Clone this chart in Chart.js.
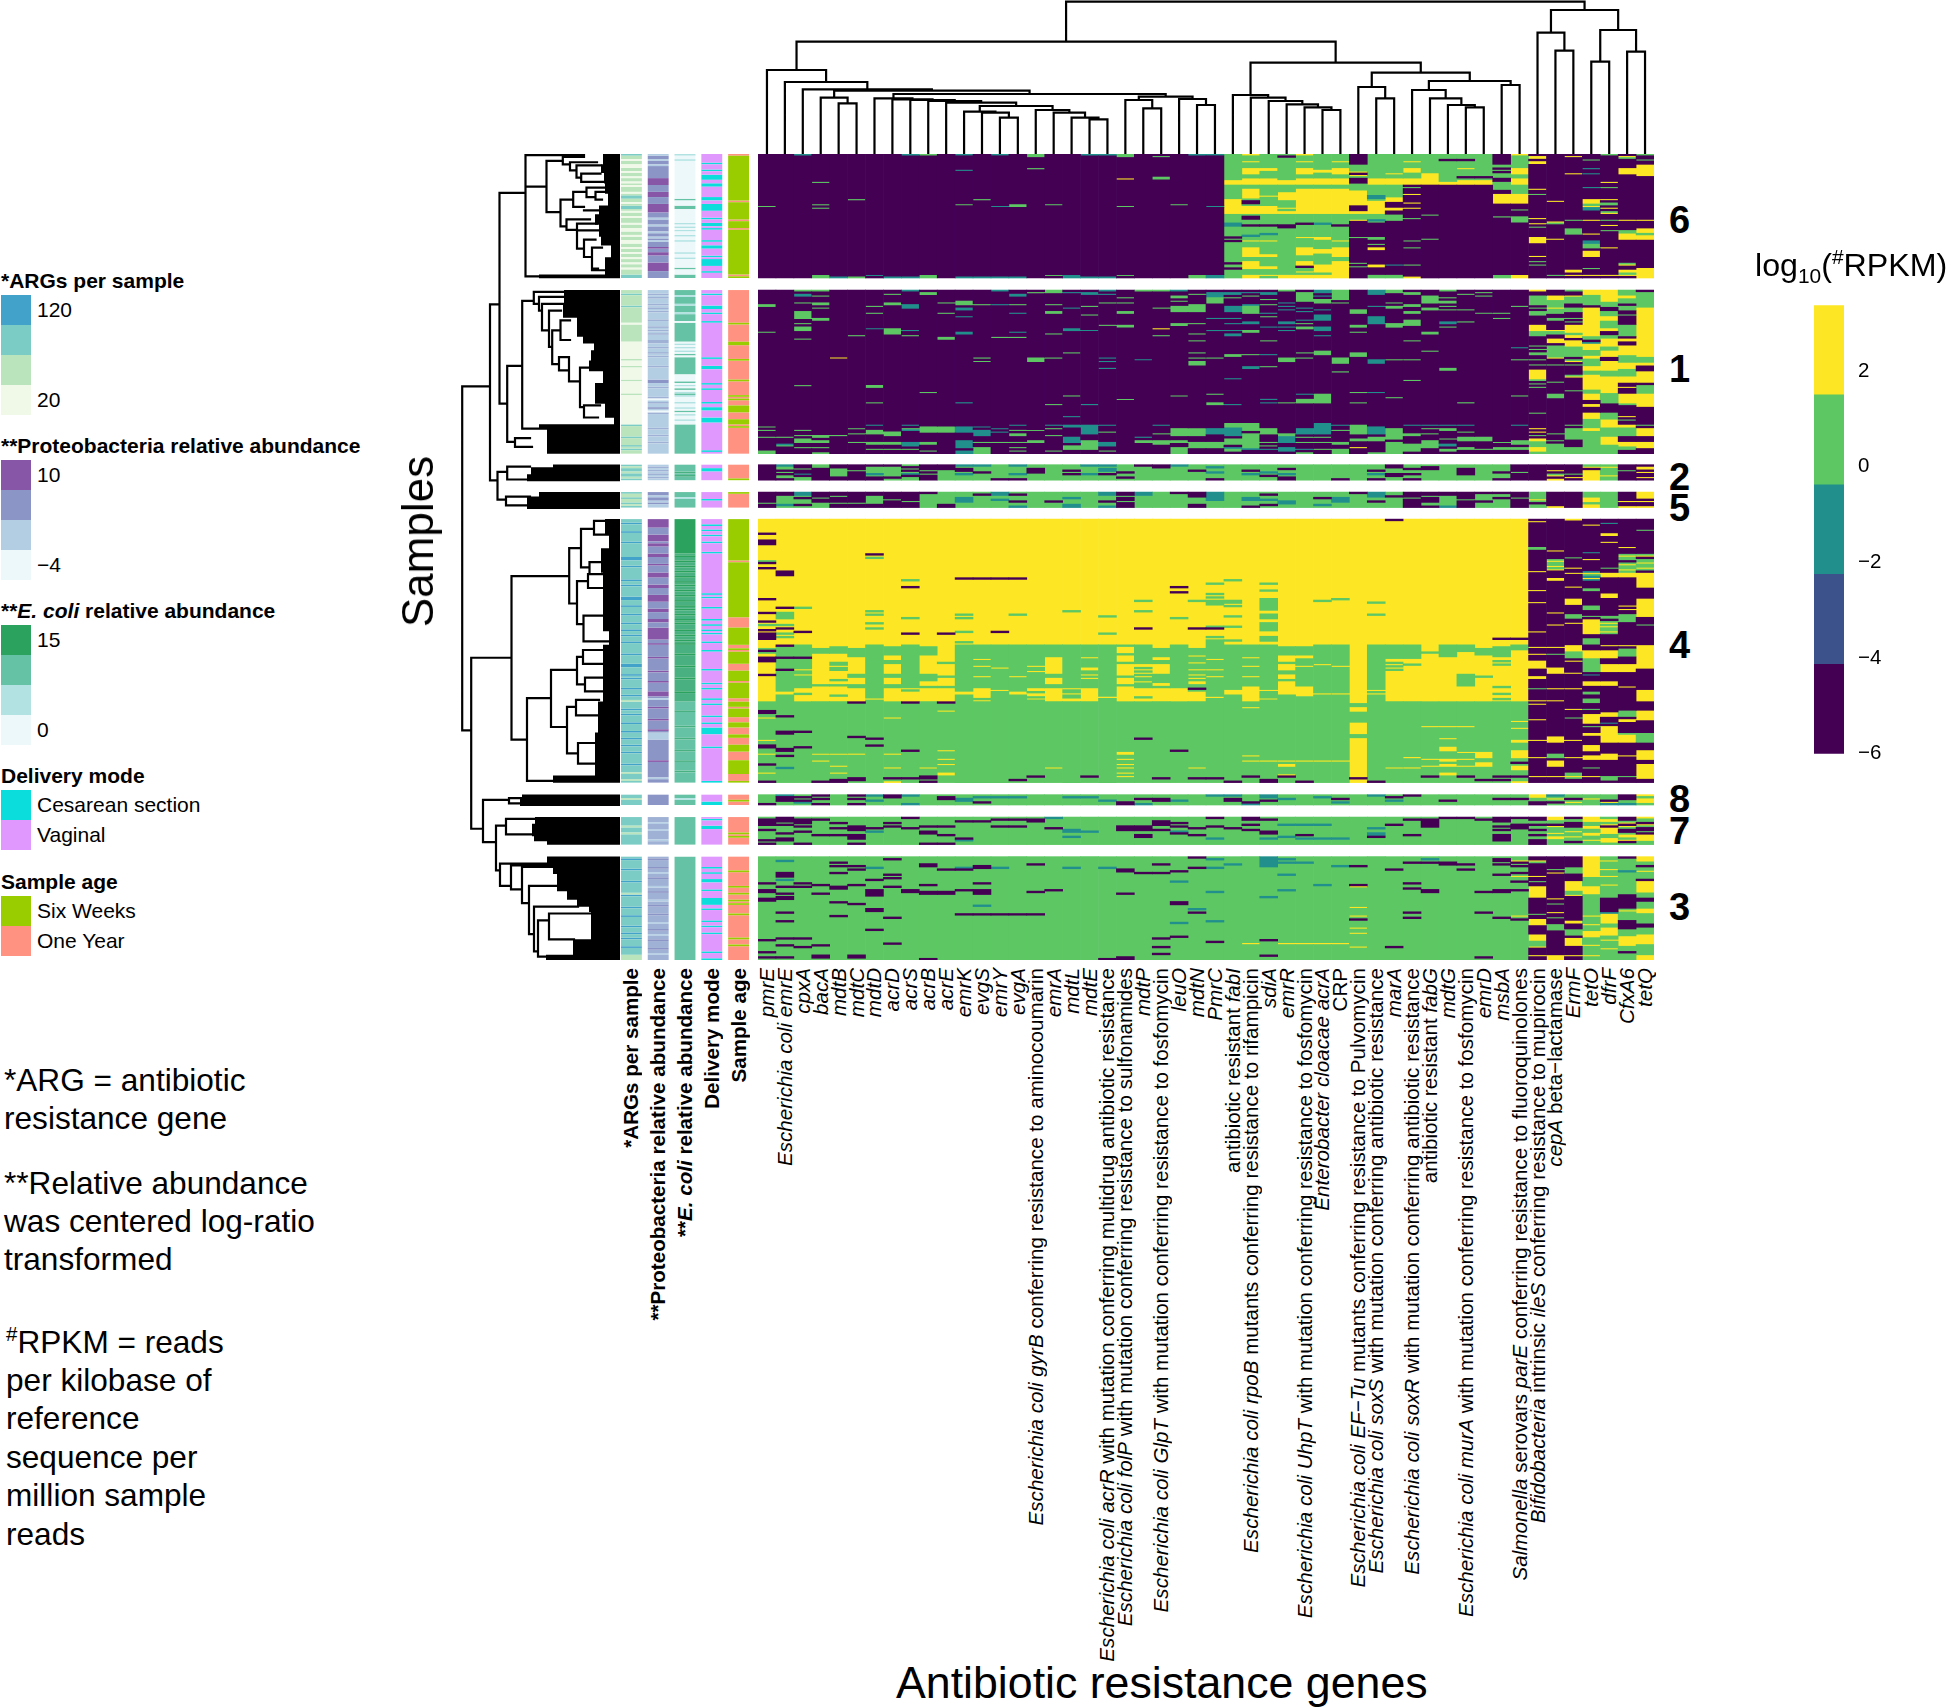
<!DOCTYPE html>
<html>
<head>
<meta charset="utf-8">
<title>Antibiotic resistance genes</title>
<script src="https://cdn.jsdelivr.net/npm/chart.js@4"></script>
<style>
  html, body { margin: 0; padding: 0; background: #fff; }
  #page { position: relative; width: 1946px; height: 1707px; overflow: hidden; font-family: "Liberation Sans", Arial, sans-serif; color: #000; }
  canvas { position: absolute; display: block; }
  .txt { position: absolute; white-space: nowrap; }
  .up { position: absolute; white-space: nowrap; writing-mode: vertical-rl; transform: rotate(180deg); line-height: 20px; font-size: 20.6px; }
  .swatch { position: absolute; left: 1px; width: 30px; height: 30px; }
  sub, sup { font-size: 65%; line-height: 0; }
</style>
</head>
<body>
<div id="page">
  <canvas id="colTree" width="896" height="154" style="left:758px;top:0"></canvas>
  <canvas id="rowTree" width="240" height="806" style="left:380px;top:154px"></canvas>
  <canvas id="tracks" width="134" height="806" style="left:618px;top:154px"></canvas>
  <canvas id="heat" width="896" height="806" style="left:758px;top:154px"></canvas>
  <canvas id="scale" width="132" height="485" style="left:1814px;top:287px"></canvas>
</div>
<script>
/* global Chart */

const geneLabels = [
  '<i>pmrE</i>', '<i>Escherichia coli emrE</i>', '<i>cpxA</i>', '<i>bacA</i>', '<i>mdtB</i>', '<i>mdtC</i>', '<i>mdtD</i>',
  '<i>acrD</i>', '<i>acrS</i>', '<i>acrB</i>', '<i>acrE</i>', '<i>emrK</i>', '<i>evgS</i>', '<i>emrY</i>', '<i>evgA</i>',
  '<i>Escherichia coli gyrB</i> conferring resistance to aminocoumarin',
  '<i>emrA</i>', '<i>mdtL</i>', '<i>mdtE</i>',
  '<i>Escherichia coli acrR</i> with mutation conferring multidrug antibiotic resistance',
  '<i>Escherichia coli folP</i> with mutation conferring resistance to sulfonamides',
  '<i>mdtP</i>',
  '<i>Escherichia coli GlpT</i> with mutation conferring resistance to fosfomycin',
  '<i>leuO</i>', '<i>mdtN</i>', '<i>PmrC</i>', 'antibiotic resistant <i>fabI</i>',
  '<i>Escherichia coli rpoB</i> mutants conferring resistance to rifampicin',
  '<i>sdiA</i>', '<i>emrR</i>',
  '<i>Escherichia coli UhpT</i> with mutation conferring resistance to fosfomycin',
  '<i>Enterobacter cloacae acrA</i>', 'CRP',
  '<i>Escherichia coli EF\u2212Tu</i> mutants conferring resistance to Pulvomycin',
  '<i>Escherichia coli soxS</i> with mutation conferring antibiotic resistance',
  '<i>marA</i>',
  '<i>Escherichia coli soxR</i> with mutation conferring antibiotic resistance',
  'antibiotic resistant <i>fabG</i>', '<i>mdtG</i>',
  '<i>Escherichia coli murA</i> with mutation conferring resistance to fosfomycin',
  '<i>emrD</i>', '<i>msbA</i>',
  '<i>Salmonella</i> serovars <i>parE</i> conferring resistance to fluoroquinolones',
  '<i>Bifidobacteria</i> intrinsic <i>ileS</i> conferring resistance to mupirocin',
  '<i>cepA</i> beta\u2212lactamase',
  '<i>ErmF</i>', '<i>tetO</i>', '<i>dfrF</i>', '<i>CfxA6</i>', '<i>tetQ</i>'
];
const trackLabels = ['*ARGs per sample', '**Proteobacteria relative abundance', '**<i>E. coli</i> relative abundance', 'Delivery mode', 'Sample age'];

const clusterNames = ['6', '1', '2', '5', '4', '8', '7', '3'];
const clusterRows = [72, 95, 9, 9, 153, 6, 16, 60];
const clusterStart = [0, 79, 180.4, 196.3, 212, 372, 385, 408];
const clusterLabelRow = [38.5, 125, 187.5, 205.5, 285, 374.7, 393, 437];

// heat levels, p b t g y = the five steps of the colour bar
const scaleBreaks = [-6, -4.13, -2.25, -0.38, 1.5, 3.37];
const scaleColors = ['#440154', '#3B528B', '#21908C', '#5DC863', '#FDE725'];
const scaleTicks = [-6, -4, -2, 0, 2];

// each column: runs over the base letter, "g8-10" = green rows 8 and 9, "g24" = row 24
const base6 = 'pppppppppppppppppppppppppp' + 'ggggggg' + 'ppppppppppppppppp';
const cols6 = [
  'g30', '', 't0', 'g16 g29 g31 g70-72', 't71', 'g26 g71', 't70', 't71', 't0 t71', 'g0 g70-72',
  '', 't0 t9 g29 t71', 'g26 t71', 't0 t30 t71', 'g29-31 t71', 'g0-2 g8', 'g29 g70', 't70-72', 't0 t71', 't0 t71',
  'g0-2 y14 g30 g70', '', 'g1 g13-15', 'g29', 't0 g70-72', 't0 t30 t70-72',
  'y15-18 y26-35 t40-42 p48 p50 p63 p66',
  'y0 y4 y8-12 y14-18 y20-26 p27-29 y30-35 p36-38 p41 t47 y50 y54-60 y62-67 y70-72',
  'y8-10 y14-18 y24 y30-35 p41 t46 y50 y58-60 y65-67 y70',
  'p1 y15-18 y22-27 y31 y33-35 p41-43 y70-72',
  'y0 y4 y8-12 y14-18 y20-35 p40 y48 y54-59 y62-65 p65 y68 y70-72',
  'y9-11 y14-18 y20-35 t40 y48-50 y55-58 y64-69 y70-72',
  'y4 y8-12 y14-18 y20-35 p41 y50 y54-60 y62-72',
  'g6-10 y10 p11 y12 g13 p14-17 g17-21 y21-30 p30-33 y33-35 g35-38 y38 g48 g63 g65',
  'g0-14 y14-18 g18-24 t24-26 g26 y27-35 g35-38 t38 g39 g48-50 g52 y54-56 y64-66 g70-72',
  'g0-11 y11 g12-14 y14-18 g18-25 y25-28 p28-31 y31-33 g35-39 t64 g70-72',
  'g0-4 y4 g5-8 y8-11 g11-14 y14-18 g19 y23 y28 y31 g37 g50 g54 g64 y71',
  'g0-11 y11-18 g35 g49',
  'g0-3 g4-16 y16-18',
  'g0-3 g4-8 y8 g9-13 g14 y15-18',
  'g0-13 g14 y15-18',
  'g6-8 g9 g11-14 g16-21 y23-29 g36 g70-72',
  'y0 g1-8 y8-12 g12-14 y14-18 g18-23 y23-29 g32 g36-40 y70-72',
  'y1-3 y4-6 y20 g23 y37 y40 g42 y48-52 y59 g62 g64',
  'y27 y39 g40 y49 g70',
  'y1 y11 g38 g43-47 y67-69 y70',
  'g3 t8 t11 t19 y26-29 g29 y30 t31 t32 y38 y46 t50-52 g52-55 y56-60 g66 y70',
  'g0 y16 g19 y26 g28-30 y31 g33 y34 g38 y41 g44 y54 y70',
  'y1 g2 y8-12 y38 g44-46 y46-50 y64 g63 y67-71 g69',
  'g0 g3 y6-13 y38 y43-50 g46 y66-72'
];

const base1 = 'pppppppppppppppppppppppppppppppppppppppppppppppppp';
const cols1 = [
  'g8-10 g24 g79 g81 g85 g93-95', 'g85 t89 g90', 'g0 t2-4 g7 g12-17 g19 g21-24 g28 g55 g81 g84 g86-89 g91',
  'g0 g3 g7-9 g10 g16-18 g84-86 g87-89 g91 g94', 'y39 g84', 'g26 g80 g83 g88',
  'g9 g13 t22 g55-57 g65 t78 g81-84 g88 g89 g92', 'g2 g7-9 g22-26 g82 g83-85 g88 g89 g92',
  't0 t8-11 t23 g26 t78 g80 t81 t88-91 g92', 'g1-3 g59 g79-83 g88-90 g93', 'g7 g13 g27-29 g79-83',
  'g6-9 t10-12 t15 t24-26 t65 t79-83 t87-92 t93-95', 'g8 g39 g41 t79 t81-85 g88 g91-95', 't0 t8 g27 t80 t82 g88',
  't2-4 g8 t13 t24 g27 t78 g81 g83-85 g88 g91 g93', 'g1 g39-42 g81 g87-89', 'g0-2 g8 g12-14 g25 g39 g66 t78 g80 g84 g93',
  't1 t10 t22-24 g36 g61 t73 t78-80 t85-89 g90-93', 't1-3 g9 g14 t23 t66 t78-84 g87-93',
  't0 t2 g7 g20 t39 t41 t45 t78 g82 t88-91 g93', 'g4 g7 g12-14 g20-22 g63', 'g0 t40 t85 g87-89',
  'g0 g10 y22 g26 t78 g83 g87-90', 't0 g3-5 g6 g9-13 g19-21 g61 g80-85 g87-89 g91-95',
  'g2 g8-13 g19 g25 g29 g36 g39 g41-44 g80-85 g88-92', 't1-4 g4-8 t16 t23 g39 g60 g65-67 t80-84 g88-92',
  't1-3 g4 t9-13 t16 t19 t23 t25-27 g37-39 t51 t66 g77-80 t80-85 g86-90 t91 g92-94',
  't1 g3 t8 g9-14 t18-20 g23 g24 g37 t44-46 g77-82 g83-92 t92',
  't1-3 g5 g8 t13 g15 t21 g29 t37 g44 t63 t65 g80-84 g88 g90 t92',
  'g0 t7 t9 t11 t18-20 t21 t23 g39-42 g65 g83-85 t85-89 t91-94',
  'g1-7 t10 t12 t17 g19 g21-23 g36 g39 t60 g63-66 t80-84 g85 g88 t92 g94',
  't0-2 t3 g5-8 t11 t14-18 t21-24 t26 g35-38 g60-66 t77-84 g85 g88 g92',
  'g0-6 g7 g39-43 g47 t78 g81 g88-90 g92-95',
  'g11-14 g20-22 g24 g36-39 g59 g65 g78-84 g86-88 y91',
  't0-3 t9 t15-20 g40 t40-43 t59 t79-84 g85-88 g94',
  'g0-2 g7 g9-11 g19-22 g40 g62 g80-87 g88-95',
  'g1-3 g8-10 g12-14 g17-21 g29 g40 g52 t78 g83-85 g89-94',
  'g3 g4-8 g10-12 g24-26 g35 t78 g80 g83 g87-92',
  'g0 g4 g6-8 g9 g11 t18-20 g21 g45-47 t78 g80-82 g86 t89-91 g92-94',
  'g2 g11 g18 g65 t78 g82 g85-88 g91-93', 'g1 g3 g13 g85-88 g92', 'g13 g16 g88 g91-93',
  'g9 t33 g40 g61 t78 g87-90 g91-93',
  'y0 g3-9 g10 g12-15 y20-24 g24-27 g32 g34 g36-38 g40 g43 y46-52 g52 g54 g56 g71 y80 y82 g84 y86-88 g88-91 y91-94 g94',
  'y3-6 g6-10 y10 g11-14 g16-18 y23 g24-26 y28-31 g32-39 y39 g43 g53 g60-63 g83 g87 g89-92 g92-95',
  'g0 y3 g4-8 g10-13 g16 g18 y20-25 g25 y26-28 y29-33 g33-39 y41 g40 g43 g49 y50 g58 g78 g80-87 g91-95',
  'y0-3 g3-9 y10-27 g27-29 t30 y31-35 g35-38 y38-40 g40-44 y44-47 g47-49 y49-58 g58-60 y60-64 y66-68 y71-75 g75-80 y80-82 g82-95',
  'y0-7 g7-10 g12-15 y15-18 g18-22 y22-24 p25 g26-28 y28-33 g33-35 y35-39 p39-41 y41-47 g47-50 y50-60 g60-66 p66 y71 g71-75 y75-80 g80-85 y85-90 g90-95',
  'g0-3 y3-5 g5-8 p8 g9-12 p13 g14 g20-27 y28-30 p31 y32-38 g38-42 y42-46 g46-50 y50-54 y56 p58 y60-66 g66 y73 g75 y78-80 g80-85 y88-91 g91-93',
  'g1-10 y10-39 g39-42 y42-44 p45-47 y47-54 g55-60 y60-68 g78 y80-85 p85-88 y88-92'
];

const base2 = 'pgppppggpp' + 'gggggggggg' + 'gggggggggg' + 'gggggggggg' + 'ggppppygpp';
const cols2 = [
  '', 't0 p3 p5 p8', 'g2 t5 g7-9', 'g0-2', 'g2-7', 'g3', 'p0 t5 p7-9', 'p0 p7', 'g0 g2 g4 t5 g7-9', 'g3 g5',
  'p0-3', 't0 p2-4 t5', 't0 p4', 'p8', 't0 t5 p8', 'p2-5', '', 'p3 p5', 't0 t5', 't0 t2-4 p5',
  'p4 p7', 'p0', 'p0-2', 't0', 'p3', 't1 t4 p8', '', 'p3 t5', 't4 p6', 'p2 t5 p7-9',
  '', '', 'p8', '', 'p3 t5 p8', 'p0-2 p5-7', 'p2 p5 p8', 'p1-3', '', 'p2-6',
  '', 'p4 p8', 'g4', '', 'y3 g5 y6 y8', 'g5 y7', 'g0 p2', 'y1 y6', 'g3', 'y1-3 y4 y7'
];

const base5 = 'pggpppgppg' + 'gggggggggg' + 'pgggpggggg' + 'ggggggppgp' + 'ggpgppygpy';
const cols5 = [
  'g6', 'p0-2 t7', 't0-2 p3 p7', 'g3 g6-9', 'g2 g6', 'g6', 'p0-2 p7-9', 'g4 p7', 'g5', 'p0',
  'p7-9', 't3-6', 'p1', 't0-2 t4', 'p1 p5 t8', '', 'p5', 't3 t7-9', '', 't0-2 p5 t8',
  'g2 g5', 't0-2', '', 'p0', 'g3-7', 't0-5', '', 't3-5 p8', 'p1 t4 p7', 't5-7',
  '', 'p3 t7', 't3-6', 'p0', 't0-3 p5', 'p2', 'g3', 'g2 g6-8', 'p0-2 t8', 'g4',
  'p0 p5', 'p0 p3', 'g3', 'y4 p6', 'y8', '', 'g0-3 g6', '', 'y5 y8', 'p4 p6-8'
];

const base4 = 'ggggggggggggggggggggggggggggggggg' + 'y' + 'ggggggggg' + 'ppppppp';
const cols4 = [
  'y0-106 p8 p12-15 g24 p25 p28 p46 p54 g61 p59 p64 p66-70 g75 p76 g77 p80-83 p90 p111-113 y115 y128 p131-133 y136 p142 y147 p152',
  'y0-73 p30-33 p51 g54-58 g61 p63 g66 g68 p73 p80 p87 y100-102 p114 p123-125 p133-135 p137 t144',
  'y0-73 g51 p65 p80 y87 y90 y98-106 g101 p123 p132',
  'y0-75 y78-96 y97-106 y136 y140 p152',
  'y0-74 y78-83 g84 y85 y88-93 y94-96 y97-106 g102 y136 y143 y147 p151-153',
  'y0-75 y80-90 y92-96 y98-106 p106 p126 y136 p150-152',
  'y0-73 p20 g22 g53 g55 g60 g63 y104 p127 p131',
  'y0-74 y79-82 y84-90 y92-96 y98-106 y115 y136 y144 p150 y152',
  'y0-73 g35 p39 g57 p66 y98-106 g99 p106 p134 p150',
  'y0-74 y79-84 y84-90 y94-97 y98-106 y144 p149-151 p152',
  'y0-79 p66 y79-83 y84-91 y92-97 y98-106 p106 y111 y134 y139 y142 y147-149',
  'y0-73 p34 g55 g57 g65 g71 y100-102',
  'y0-73 p34 y81 y85 y91 y98-104 y105',
  'y0-73 p34 p65 y86 y99',
  'y0-73 p34 g55 y91 y100-102 p151',
  'y0-73 y85 y88 y98-105 g100 g103 p149',
  'y0-73 y80-90 y92-96 y98-106 y144',
  'y0-73 g53 y98-106 g99-101 g102-104',
  'y0-73 y80 y86-88 y90 y92 y98-106 p149',
  'y0-73 g56 g66 y103',
  'y0-73 y74-78 y79-83 y84-91 y92-96 y97-106 y135-137 y139 y142 y144 y147 y149',
  'y0-73 g47 g53 p63 y84-86 y87 y89 y91 y94 y98-106 g103 p127',
  'y0-75 y80-82 y84-90 y95-97 y98-106 p150',
  'y0-73 p39 p42 g57 y98-106 p134',
  'y0-75 g47 p63 y79 y83 y87 y90 y92 y94-96 p98 y100-106 y144 p150',
  'y0-70 g37 g43 g45 g47-50 g62 p63 g68 y81 y87 y91 y103 p150',
  'y0-73 g35 g47-49 g50 g56 g62 g70 y99-102 p152',
  'y0-73 y80 y85 y91 y97-106 y109 y137 y140 p149',
  'y0-73 g37 g41 g46-53 g55-58 g60 g61-65 g68-71 y99 y104 y140 p151-153',
  'y0-74 y79-83 y84-88 y90-93 y94-102 y140 y142-144 y148 p149',
  'y0-74 y79-81 y85 y97-103 y140 p152',
  'y0-73 g47 y84 y101 y140',
  'y0-73 g46 y85 y101 y140',
  'g107-109 g112-118 g125-127 p150',
  'y0-73 g48 g55 y99 y101 p152',
  'p0 y1-73 y81-106 g83 g85 g87 y144',
  'y0-73 y81-106 g84 y138 y144',
  'y0-77 y78-106 y120 y139 y143 p149',
  'y0-73 y80-106 g74 g77 g79 y120 y127 y132-135 y139-141 y142-144 y147-149',
  'y0-73 y77-90 g90 g92-95 g97 y97-106 y120 y135 y139 y143 p149',
  'y0-75 y79-106 g91 y135-139 y141-144 p151',
  'y0-74 p69 y80-106 g82 g84 g97 g101 g104 p149 p151',
  'y0-73 p69 g75 y76-106 y117 y121 y128-130 y134-139 p141 y143-146 p149 y152',
  'y1 g16-18 y30 y41 y48 y65 y74 y78 y82-87 y91-93 g98 y105 y107 y116 y128 y138 y149',
  'y18 g23 y24 g25-27 y27 g28 y29 y34-36 y54 y61 y74 g78 y86-90 y98 y105 y126-130 g136-139 y140-144 y149',
  'y0 g22 y28 y31 y39 y46-50 g55-58 y60 y73-77 g77-81 y82 y89 y98 y110 g115 y128 y138 g147-151 y149',
  'y3 t19 y23 t30 y31 g32 t33 y34 t35 g40-42 g50-53 g56 y58-67 g69-73 y76-81 g81-89 t90 y94-97 g100-102 g104-107 g110 y113-119 g120 y124-126 y131-135 y137-140 g144 y149',
  't2 y8-10 y13 g28 y31-34 y43-46 g56-58 g59 y60 g61 y62 g63-65 y65 g66 y73 y76-81 p82 y84-89 y94-97 y112-115 t118 y120-130 p131-135 y136-140 p142-149 g149-152',
  'y16 g20 y21 g22-24 p24 g25 y26 g27-29 y29 g30 y31-34 y50 y52 g55-60 y73 g75-80 y84-89 y97 g111-115 y116-118 y124-130 g124 p131-136 y137 p139 g149',
  'g6 g20 y21 p22 g23-25 y25 g26-28 y28 g29 y31-40 y46-57 g61 y73-87 y99-106 y111-117 g124-130 y134-140 y142-151'
];

const base8 = 'gggggggggggggggggggggggggggggggggggggggggggggggggg';
const cols8 = [
  'p5', 't0 p1-4', 'p1 p3 t4', 'p0 p2 p5', '', 'p0 p2 p5', 't0 t3', 'p0-2', 't0 t5', '',
  'p1-3', 't2-4', 't1 p4', 't1', 't1', '', '', 't1', 't1', 't3',
  'p4-6', 'p2 t5', 'p2-4', 't3', '', 't0', 't0 p2-4', 'p4 t5', 't0-2 p3', 't2',
  '', 't1', 'p2 t4', '', 't0', 'p1 t3', 'p0', '', 'p3', '',
  '', 'p2', 'p2', 'y0-2 p4-6', 't0 y2 p4', 'p2 y4', 'y2', 'p3 y4 t5', 'p0-3 t5', 'y0 y2-5'
];

const base7 = base8;
const cols7 = [
  'p1-3 p3-5 p7 p13 p15', 'p0-3 p4 p9 p12 p13', 'p1 p2-4 p5 p8 p15', 'p1 p10', 'p3 p6 p10', 'p5-8 p10-13 p15', 'p6 t8', 'p3 p5', 'p0 p6', 'p5 p8-10 p15',
  'p5 p10 p15', 'p2 p12 t13', 'p2', 'p1 p5', 'p1 p5', 'p1-3', 't0 p6', 't7-9 t11', 't8', '',
  'p5-8', 'p5-8 p10-12', 'p2-5 p7', 'p3 p5 p9 t8', 'p6 p10', 'p0 p5 t12', 'p6', 'p0-2 p4 p7', 'p1 p8-10 t12', 't4 t11',
  't4 p10 t12', 't4 t12', 't12', '', 't6 t9-11 p11', 'p4', 'p1 p10', 'p1-6', 'p0', 'p0',
  'p1', 'p0-3 p5 p7 p10-14', 'p0 p4-7', 'p0-2 p4 p7 p10 p13-16', 'y0-2 p4 y5 y9 y11-13', 'p0 p3-6 y8 y11 p14', 'y0-3 y5-7 y9-11 y13', 'y1-3 y4-10 p5 y12-15', 'p0-2 y3 p4 y5 p7-9 y10-12 y13 p14', 'y0 p3 y4 p6-8 p9 y10-14'
];

const base3 = 'ggggggggggggggggggggggggggggggggggggggggggg' + 'ppp' + 'gggg';
const cols3 = [
  'p15 p19-21 p24 p25 p48 p55 p58', 't2 p9-12 t13 p17 p21 p23 p24 p32 p37 p47 p51 p58', 'p15 p17 p47 p52', 'p16 p21 p51 p57-59', 'p3 p5 p9 p17-19 p26 p34',
  'p5 p7 p16 p27 p57-59', 't6 p13 p19-23 p30 p31 p42', 'p1 p10 p12 p17 p35 p50', 'p19 p20', 'p4-6 p16 p20 p21 p59',
  'p7 p20 p21', 't6 p7 p19 p33', 'p5-7 p15 p19 p20-22 t28 p33', 't6 p33', 'p33', 'p4 p20 p33', 'p19', 't6', '', 't6 p59',
  'p7-9 p21 p58-60', 'p9', 'p4 p9 p47 p52 p56', 'p8 t14 p26-28 t38 p46', 'p0 p6 p32 t30', 't1 t6 t20 t37 p49', 't4', 'y50', 't0-6 t23 p48 p57', 't1 t3 t10 t19 y50',
  't3 y50', 't16 y50', 't5 y50', 'p5 p16 y17 y29 y34 p36 y41 y44 y52', '', 'p7 p52', 'p3 p15 p18 p32 p35', 't1 p3 p19-21', 'p3 p4', 'p4 p7',
  'p20 p32 p58', 'p1 p2 p4 p10 p19-21 p35', 'y2 p3 p5 p9 y11 p14 p19 y34 p36',
  'y2 g3 p4 y11 g14 y17-24 g33 y36-40 p42 y45-49 g49-52 y52 y57',
  'g7 y9-10 y24 g27 y32 g35 g39-43 y57-60',
  'g6-10 y14-20 g20-22 y22 g37 y37-39 g42-46 y47-52 y57',
  'y0-12 y17-22 y34 y39 y43-47 y51 y57',
  'y2 y7 y11 y16 p24-32 t32 y33-39 y41-46 y48 y53',
  'p0 t8 p22-30 y31 p37-42 y46-52 p55',
  'y0-3 p5 y8 p13 y14-21 p24-26 y30-33 p39-41 y45-51 y57-60'
];
const heatCols = [cols6, cols1, cols2, cols5, cols4, cols8, cols7, cols3];
const heatBase = [base6, base1, base2, base5, base4, base8, base7, base3];

// annotation tracks: one run string per cluster, a to d from low to high, e = between two legend steps
const argsColors = ['#F0F9E8', '#BAE4BC', '#7BCCC4', '#43A2CA'];
const argsBase = 'bacbcccc';
const argsRuns = [
  'a3 a6-8 a10 a13 a16 a18 a22 a25 a28 a31 a33 a36 a40 a43-45 a47 a50-52 a54 a57 a60 a63 a66 c0 c24-26 c30-32 c70-72',
  'b0-19 b20-30 c2 c9 b40 b44 b52 b60 c78 b79-95 c85 c90 c92',
  'b1 b4 b7', 'c0 c3 c6 c8',
  'd2 d7 d13 d22-24 d27 d35 d38 d45-47 d50 d55 d60 d64 d67 d71 d78 d84-86 d90 d92 d98 d102 d110 d113 d118 d123 d127 d131 d135 d142 b105 b147 b151',
  'b2', 'b5 b9',
  'd1 d7 d14 d22 d29 d34 d40 d44 d47 d52 b21 b57-60'
];
const proteoColors = ['#EDF8FB', '#B3CDE3', '#8C96C6', '#8856A7', '#9FB1D4'];
const proteoBase = 'cbbcccbe';
const proteoRuns = [
  'b0 b3 b6 b37 b41 d14-18 d22-25 d29-34 d54 d57-59 d63-68 b45 b48 b50',
  'e2 e4 e8 e10 e12 e17 e21 e23 e25 e29-31 e33 e36 e38 e44 c52-54 e56 e62 a63 e65 c68 a70 e71 e80 e84 e88',
  'e1 e3 e5 e7', 'b2 b5 b7 b8',
  'd0-5 d9-13 d14-16 d20-22 d26 d31-34 d38-40 d44-48 d52-54 d58-60 d63-70 d72 d80 d88 d94 d100-103 d109 d116 d122 d140 b104 b124-128 b150',
  'c2 c3', 'e0-3 e4-7 e8-13 e14-16',
  'c1 c6 c12 c20 c28 c33 c42 c48 c53 b9 b17 b25 b38 b45 b56'
];
const ecoliColors = ['#EDF8FB', '#B2E2E2', '#66C2A4', '#2CA25F', '#49B082'];
const ecoliBase = 'aacceccc';
const ecoliRuns = [
  'b0 b3 c26 c30-32 b40 b42 b44 b47 b50 b57 b60 c66 c70-72',
  'c0-3 b3 c4-8 b8 c9-13 b13 c14-18 c19-30 b31 b33 b35 c37 c39-49 c53 b55 c57 b59 c60 b61 b65 b68 c70 b72 b75 c78-95',
  'e4 e6', 'b3',
  'd0-20 d21 d24 d27 d30 d33 d36 d38 d41 d44 d47 d50 d52 d55 d58 d60 d64 d67 d70 d72 d78 d85 d92 d100 c106-111 c112-120 c121-127 c128-134 c135-140 c141-146 c147-153',
  'b2', '', ''
];
const deliveryColors = ['#E098FF', '#0BDDDD'];
const deliveryBase = 'aaaaaaaa';
const deliveryRuns = [
  'b5 b9 b12-15 b17-19 b25-27 b29-33 b37 b40-42 b43 b50 b53-55 b59 b61-65 b68',
  'b2 b9-11 b13 b18 b39 b44-46 b54 b57 b65 b68-70 b74-77 b93',
  'b2-4', 'b4',
  'b3 b6 b9 b13 b19 b43 b45 b51 b58 b61 b64 b66 b71 b76 b87 b95 b98 b104 b107 b114 b118 b121-125 b132 b152',
  'b4-6', 'b1 b5-7',
  'b6 b9 b13-15 b19 b24-28 b30 b37 b40 b44 b55 b59'
];
const ageColors = ['#9ACD00', '#FF9280'];
const ageBase = 'abbbabbb';
const ageRuns = [
  'b0 b27 b38 b43 b70',
  'a19 a30-32 a40 a52 a61 a63 a67-71 a75-78 a79',
  'a8', 'a0',
  'b24 b57-63 b73-75 b76 b84-88 b94 b104-106 b109 b115-118 b121-125 b127-131 b135-140 b148-152',
  'a3', 'a9 a11',
  'a8 a17 a21 a25 a27 a33 a47 a51'
];

// tree above the heat map: [merge height, left, right], a number is a gene column
const geneTree = [152.3,
  [112.3,
    [84, 0, [72, 1, [64.7, 2, [63.3,
      [56.3, 3, [50.7, 4, 5]],
      [60,
        [55.7, 6, [54.7, 7, [54, 8, [53, 9, [51.3, 10, [48,
          [42.3, 11, [41.3, 12, [36.3, 13, 14]]],
          [44, 15, [41.3, 16, [36.3, 17, [34.7, 18, 19]]]]
        ]]]]]],
        [57.3, [54, 20, [45.7, 21, 22]], [55, 23, [49, 24, 25]]]
      ]
    ]]]],
    [91.3,
      [59, 26, [56.3, 27, [53, 28, [49.7, 29, [46.7, 30, [44, 31, 32]]]]]],
      [81.3,
        [67, 33, [55.7, 34, 35]],
        [73,
          [64, 36, [55.7, 37, [49, 38, [46.7, 39, 40]]]],
          [69, 41, 42]
        ]
      ]
    ]
  ],
  [144, [121.3, 43, [103.3, 44, 45]], [124, [92.3, 46, 47], [102.3, 48, 49]]]
];

// tree left of the tracks: splits [height, top row, bottom row], branches [row, from height, to height]
const rowSplits = [
  [157.8, 134.9, 334.7], [130, 87.3, 189.5], [120.5, 22.6, 145], [94.5, 0.6, 71], [73.5, 4, 33.7], [57.2, 1.7, 6], [50, 4.8, 9.5],
  [43.5, 6.6, 13.7], [38.8, 11.4, 16.2], [59.5, 26.5, 42], [46.8, 22, 30.7], [33.5, 19.5, 25], [24.5, 22, 26.5], [53.5, 38, 44],
  [43, 40.4, 55], [36, 49.7, 59.8], [28, 54.4, 66.6],
  [112.8, 123, 167.2], [97.8, 85.3, 159.5], [86.2, 80.1, 87], [81, 83, 91], [78, 87, 102.4], [71, 91, 112], [67.8, 102.4, 122],
  [59.5, 96.6, 108], [61, 118, 125.6], [51, 118, 132], [40, 124, 147], [36, 146, 153], [105, 165, 170],
  [122.5, 184.6, 200.7], [112.8, 181.5, 189], [114, 199, 204],
  [148.8, 292.5, 391.8], [108.5, 245.1, 340], [50.8, 228.9, 261], [39, 217.7, 240], [26, 213, 221], [30.5, 237, 244], [43, 248, 273],
  [36.5, 268, 283], [32, 244, 252], [93, 316, 364], [69, 299.5, 332.7], [43, 292, 308], [53, 321, 348], [37, 288, 296], [35, 304, 312],
  [44, 317, 326], [42, 342, 354],
  [137, 375, 399.6], [111, 374, 377], [124, 390, 416], [114, 386, 395], [120, 412, 425], [109, 413, 427], [98, 414, 435], [91, 425, 453],
  [86, 437, 463], [82, 445, 466], [71, 441, 456]
];
const rowBranches = [
  [134.9, 157.8, 130], [87.3, 130, 120.5], [22.6, 120.5, 94.5], [0.6, 94.5, 36], [19, 94.5, 73.5], [4, 73.5, 57.2], [1.7, 57.2, 36],
  [6, 57.2, 50], [4.8, 50, 23], [9.5, 50, 43.5], [6.6, 43.5, 19.5], [13.7, 43.5, 38.8], [11.4, 38.8, 19.5], [16.2, 38.8, 14.5],
  [33.7, 73.5, 59.5], [26.5, 59.5, 46.8], [22, 46.8, 33.5], [19.5, 33.5, 16], [25, 33.5, 24.5], [22, 24.5, 16], [26.5, 24.5, 18],
  [30.7, 46.8, 36], [32.7, 36, 21], [42, 59.5, 53.5], [38, 53.5, 30], [44, 53.5, 43], [40.4, 43, 23], [44.3, 43, 21], [55, 43, 36],
  [49.7, 36, 24.5], [59.8, 36, 28], [54.4, 28, 18], [66.6, 28, 22], [67.5, 28, 15], [71, 94.5, 0],
  [145, 120.5, 112.8], [123, 112.8, 97.8], [85.3, 97.8, 86.2], [80.1, 86.2, 42], [87, 86.2, 81], [83, 81, 30], [91, 81, 78],
  [87, 78, 55], [102.4, 78, 71], [91, 71, 59], [112, 71, 67.8], [102.4, 67.8, 59.5], [96.6, 59.5, 50], [108, 59.5, 50], [122, 67.8, 61],
  [118, 61, 51], [125.6, 61, 51], [132, 51, 40], [124, 40, 30], [147, 40, 36], [146, 36, 20], [153, 36, 22],
  [159.5, 97.8, 82], [167.2, 112.8, 105], [165, 105, 90], [170, 105, 88],
  [189.5, 130, 122.5], [184.6, 122.5, 112.8], [181.5, 112.8, 90], [189, 112.8, 92], [200.7, 122.5, 114], [199, 114, 90], [204, 114, 92],
  [334.7, 157.8, 148.8], [292.5, 148.8, 108.5], [245.1, 108.5, 50.8], [228.9, 50.8, 39], [217.7, 39, 26], [213, 26, 14], [221, 26, 12],
  [240, 39, 30.5], [237, 30.5, 18], [244, 30.5, 16], [261, 50.8, 43], [248, 43, 32], [244, 32, 16], [252, 32, 16], [273, 43, 36.5], [268, 36.5, 16], [283, 36.5, 12],
  [340, 108.5, 93], [316, 93, 69], [299.5, 69, 43], [292, 43, 37], [288, 37, 16], [296, 37, 16], [308, 43, 35], [304, 35, 16], [312, 35, 16],
  [332.7, 69, 53], [321, 53, 44], [317, 44, 21], [326, 44, 21], [348, 53, 42], [342, 42, 24], [354, 42, 24], [364, 93, 66],
  [391.8, 148.8, 137], [375, 137, 111], [374, 111, 96], [377, 111, 92], [399.6, 137, 124], [390, 124, 114], [386, 114, 84], [395, 114, 87],
  [416, 124, 120], [412, 120, 66], [425, 120, 109], [413, 109, 66], [427, 109, 98], [414, 98, 62], [435, 98, 91], [425, 91, 62], [453, 91, 86],
  [437, 86, 42], [463, 86, 82], [445, 82, 71], [466, 82, 73], [441, 71, 28], [456, 71, 46]
];
// solid block of sample leaves: [first row, last row, height where it begins]
const leafBlocks = [
  [0, 6, 16], [6, 11, 18], [11, 17, 15], [17, 23, 14], [23, 30, 11], [30, 35, 20], [35, 41, 24], [41, 48, 20], [48, 53, 18], [53, 60, 8], [60, 70, 14], [70, 72, 80],
  [79, 87, 55], [87, 95, 56], [95, 106, 42], [106, 110, 36], [110, 114, 25], [114, 120, 28], [120, 126, 30], [126, 133, 16], [133, 145, 24], [145, 153, 14], [153, 157, 5], [157, 160, 80], [160, 174, 72],
  [180.4, 182, 66], [182, 186, 88], [186, 189.4, 92], [196.3, 199, 80], [199, 205.3, 92],
  [212, 221, 14], [221, 229, 10], [229, 243, 18], [243, 277, 16], [277, 285, 10], [285, 318, 16], [318, 336, 21], [336, 361, 24], [361, 365, 66],
  [372, 373.5, 97], [373.5, 378, 99], [385, 389, 84], [389, 396, 87], [396, 399, 85], [399, 401, 72],
  [408, 412, 72], [412, 418, 66], [418, 428, 62], [428, 433, 52], [433, 437, 42], [437, 440, 30], [440, 456, 28], [456, 465, 46], [465, 468, 73]
];

const legendBlocks = [
  { title: '*ARGs per sample', top: 295, colors: argsColors.slice(0, 4).reverse(), labels: ['120', '', '', '20'] },
  { title: '**Proteobacteria relative abundance', top: 460, colors: proteoColors.slice(0, 4).reverse(), labels: ['10', '', '', '\u22124'] },
  { title: '**<i>E. coli</i> relative abundance', top: 625, colors: ecoliColors.slice(0, 4).reverse(), labels: ['15', '', '', '0'] },
  { title: 'Delivery mode', top: 790, colors: deliveryColors.slice().reverse(), labels: ['Cesarean section', 'Vaginal'] },
  { title: 'Sample age', top: 896, colors: ageColors, labels: ['Six Weeks', 'One Year'] }
];
const noteLines = [
  ['*ARG = antibiotic', 1080, 4], ['resistance gene', 1118, 4],
  ['**Relative abundance', 1183, 4], ['was centered log-ratio', 1221, 4], ['transformed', 1259, 4],
  ['<sup>#</sup>RPKM = reads', 1342, 6], ['per kilobase of', 1380, 6], ['reference', 1418, 6], ['sequence per', 1457, 6], ['million sample', 1495, 6], ['reads', 1534, 6]
];

Chart.defaults.font.family = '"Liberation Sans", Arial, sans-serif';
Chart.defaults.animation = false;
Chart.defaults.responsive = false;
Chart.defaults.plugins.legend.display = false;
Chart.defaults.plugins.tooltip.enabled = false;

const page = document.getElementById('page');

function addText(html, style, cls) {
  const el = document.createElement('div');
  el.className = cls || 'txt';
  el.innerHTML = html;
  Object.assign(el.style, style);
  page.appendChild(el);
  return el;
}

function applyRuns(column, runs, letters) {
  runs.split(' ').filter(Boolean).forEach(run => {
    const m = run.match(/^([a-z])(\d+)(?:-(\d+))?$/);
    const from = +m[2];
    const to = m[3] ? +m[3] : from + 1;
    for (let r = from; r < to && r < column.length; r++) column[r] = letters.indexOf(m[1]);
  });
}

// merges equal neighbours of a column into floating bars, one dataset per colour
function barsFromColumn(column, label, start, store) {
  let from = 0;
  for (let r = 1; r <= column.length; r++) {
    if (r === column.length || column[r] !== column[from]) {
      store[column[from]].push({ x: label, y: [start + from, start + r] });
      from = r;
    }
  }
}

function flatBars(store, colors) {
  return store.map((data, i) => ({
    data, backgroundColor: colors[i], barPercentage: 1, categoryPercentage: 1, grouped: false
  }));
}

function heatDatasets() {
  const store = scaleColors.map(() => []);
  clusterRows.forEach((rows, c) => {
    geneLabels.forEach((gene, g) => {
      const column = new Array(rows).fill('pbtgy'.indexOf(heatBase[c][g]));
      applyRuns(column, heatCols[c][g], 'pbtgy');
      barsFromColumn(column, gene, clusterStart[c], store);
    });
  });
  return flatBars(store, scaleColors);
}

function trackDatasets() {
  const tracks = [
    [argsBase, argsRuns, argsColors], [proteoBase, proteoRuns, proteoColors], [ecoliBase, ecoliRuns, ecoliColors],
    [deliveryBase, deliveryRuns, deliveryColors], [ageBase, ageRuns, ageColors]
  ];
  const sets = [];
  tracks.forEach(([base, runs, colors], t) => {
    const store = colors.map(() => []);
    clusterRows.forEach((rows, c) => {
      const column = new Array(rows).fill('abcde'.indexOf(base[c]));
      applyRuns(column, runs[c], 'abcde');
      barsFromColumn(column, trackLabels[t], clusterStart[c], store);
    });
    flatBars(store, colors).forEach(s => { s.barPercentage = 0.78; sets.push(s); });
  });
  return sets;
}

function segment(points, x0, y0, x1, y1) {
  points.push({ x: x0, y: y0 }, { x: x1, y: y1 }, { x: NaN, y: NaN });
}

function geneTreePoints(node, points) {
  if (typeof node === 'number') return { x: node, h: 0 };
  const left = geneTreePoints(node[1], points);
  const right = geneTreePoints(node[2], points);
  segment(points, left.x, left.h, left.x, node[0]);
  segment(points, right.x, right.h, right.x, node[0]);
  segment(points, left.x, node[0], right.x, node[0]);
  return { x: (left.x + right.x) / 2, h: node[0] };
}

function treeDataset(data, width) {
  return { data, showLine: true, borderColor: '#000', borderWidth: width, pointRadius: 0, borderCapStyle: 'square', spanGaps: false };
}

const hidden = { display: false };

const heatChart = new Chart(document.getElementById('heat'), {
  type: 'bar',
  data: { labels: geneLabels, datasets: heatDatasets() },
  options: {
    layout: { padding: 0 },
    scales: {
      x: { type: 'category', offset: true, ...hidden },
      y: { type: 'linear', reverse: true, min: 0, max: 468, ...hidden }
    }
  }
});

const trackChart = new Chart(document.getElementById('tracks'), {
  type: 'bar',
  data: { labels: trackLabels, datasets: trackDatasets() },
  options: {
    layout: { padding: 0 },
    scales: {
      x: { type: 'category', offset: true, ...hidden },
      y: { type: 'linear', reverse: true, min: 0, max: 468, ...hidden }
    }
  }
});

const genePoints = [];
geneTreePoints(geneTree, genePoints);
new Chart(document.getElementById('colTree'), {
  type: 'scatter',
  data: { datasets: [treeDataset(genePoints, 2.2)] },
  options: {
    layout: { padding: 0 },
    scales: {
      x: { type: 'linear', min: -0.5, max: 49.5, ...hidden },
      y: { type: 'linear', min: 0, max: 154, ...hidden }
    }
  }
});

const rowPoints = [];
rowSplits.forEach(([h, top, bottom]) => segment(rowPoints, h, top, h, bottom));
rowBranches.forEach(([row, from, to]) => segment(rowPoints, from, row, to, row));
const leafPoints = [];
leafBlocks.forEach(([first, last, h]) => {
  for (let r = first; r < last; r++) segment(leafPoints, h, r + 0.5, 0, r + 0.5);
});
new Chart(document.getElementById('rowTree'), {
  type: 'scatter',
  data: { datasets: [treeDataset(rowPoints, 2.2), treeDataset(leafPoints, 2)] },
  options: {
    layout: { padding: 0 },
    scales: {
      x: { type: 'linear', reverse: true, min: 0, max: 240, ...hidden },
      y: { type: 'linear', reverse: true, min: 0, max: 468, ...hidden }
    }
  }
});

new Chart(document.getElementById('scale'), {
  type: 'bar',
  data: {
    labels: ['log10(#RPKM)'],
    datasets: scaleColors.map((color, i) => ({
      data: [[scaleBreaks[i], scaleBreaks[i + 1]]],
      backgroundColor: color, barPercentage: 1, categoryPercentage: 1, grouped: false
    }))
  },
  options: {
    layout: { padding: { top: 12, bottom: 12 } },
    scales: {
      x: { type: 'category', offset: true, display: false },
      y: {
        type: 'linear', position: 'right', min: scaleBreaks[0], max: scaleBreaks[5],
        grid: { display: false }, border: { display: false },
        afterFit: axis => { axis.width = 102; },
        afterBuildTicks: axis => { axis.ticks = scaleTicks.map(value => ({ value })); },
        ticks: {
          color: '#000', font: { size: 20.5 }, padding: 6, autoSkip: false,
          callback: value => String(value).replace('-', '\u2212')
        }
      }
    }
  }
});

// text, placed from the chart scales where it belongs to a column or a row
geneLabels.forEach((gene, g) => {
  const cx = 758 + heatChart.scales.x.getPixelForValue(g);
  addText(gene, { left: (cx - 10) + 'px', top: '968px' }, 'up');
});
trackLabels.forEach((name, t) => {
  const cx = 618 + trackChart.scales.x.getPixelForValue(t);
  addText(name, { left: (cx - 10) + 'px', top: '968px', fontWeight: 'bold' }, 'up');
});
clusterNames.forEach((name, c) => {
  const cy = 154 + heatChart.scales.y.getPixelForValue(clusterLabelRow[c]);
  addText(name, { left: '1669px', top: (cy - 22) + 'px', fontSize: '38px', lineHeight: '44px', fontWeight: 'bold' });
});
legendBlocks.forEach(block => {
  addText(block.title, { left: '1px', top: (block.top - 26) + 'px', fontSize: '21px', lineHeight: '24px', fontWeight: 'bold' });
  block.colors.forEach((color, i) => {
    const sw = document.createElement('div');
    sw.className = 'swatch';
    sw.style.top = (block.top + i * 30) + 'px';
    sw.style.background = color;
    page.appendChild(sw);
    if (block.labels[i]) {
      addText(block.labels[i], { left: '37px', top: (block.top + i * 30 + 3) + 'px', fontSize: '21px', lineHeight: '24px' });
    }
  });
});
noteLines.forEach(([line, y, x]) => {
  addText(line, { left: x + 'px', top: (y - 18) + 'px', fontSize: '31.6px', lineHeight: '36px' });
});
addText('log<sub>10</sub>(<sup>#</sup>RPKM)', { left: '1755px', top: '247px', fontSize: '32.2px', lineHeight: '36px' });
addText('Samples', { left: '390px', top: '456px', fontSize: '44px', lineHeight: '56px', writingMode: 'vertical-rl', transform: 'rotate(180deg)' });
addText('Antibiotic resistance genes', { left: '896px', top: '1656px', fontSize: '44.7px', lineHeight: '54px' });
</script>
</body>
</html>
